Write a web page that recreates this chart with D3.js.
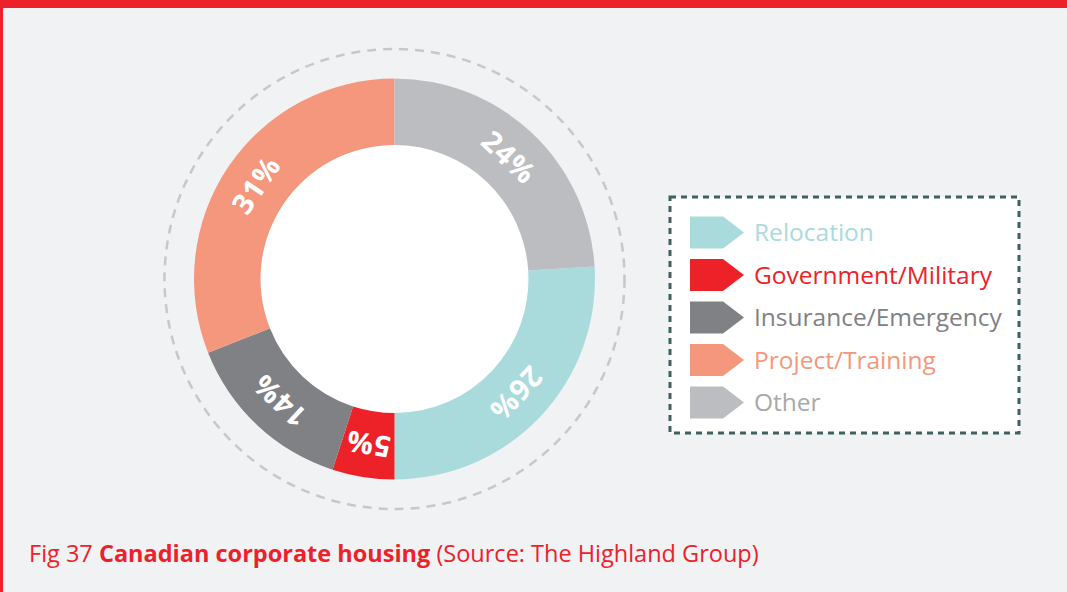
<!DOCTYPE html>
<html>
<head>
<meta charset="utf-8">
<script src="https://cdn.jsdelivr.net/npm/d3@7"></script>
<style>
  html, body { margin: 0; padding: 0; background: #f1f2f4; }
  svg { display: block; font-family: "Open Sans", sans-serif; }
</style>
</head>
<body>
<div id="chart"></div>
<script>
// chart data (legend order)
const categories = ["Relocation", "Government/Military", "Insurance/Emergency", "Project/Training", "Other"];
const shares = [26, 5, 14, 31, 24];
const labels = ["26%", "5%", "14%", "31%", "24%"];
const colors = ["#a9dbdc", "#ed2229", "#808184", "#f4977c", "#bcbdc0"];
const textColors = ["#a9dbdc", "#ed2229", "#808184", "#f4977c", "#a7a9ac"];

const width = 1067
const height = 592

const svg = d3.select("#chart")
    .append("svg")
    .attr("width", width)
    .attr("height", height)

// background + red frame
svg.append("rect").attr("width", width).attr("height", height).attr("fill", "#f1f2f4")
svg.append("rect").attr("width", width).attr("height", 8).attr("fill", "#ed2129")
svg.append("rect").attr("width", 3).attr("height", height).attr("fill", "#ed2129")

// donut
const cx = 394.5, cy = 279;
const outerR = 200.5, innerR = 134;

const g = svg.append("g").attr("transform", `translate(${cx},${cy})`)

// dashed guide circle
g.append("circle")
    .attr("r", 230)
    .attr("fill", "none")
    .attr("stroke", "#c3cacb")
    .attr("stroke-width", 2.5)
    .attr("stroke-dasharray", "9,7")

g.append("circle").attr("r", innerR).attr("fill", "#ffffff")

// "Other" closes the ring at 12 o'clock, so start after its share
const start = shares[4] / 100 * 2 * Math.PI;
const pie = d3.pie().sort(null).value(d => d).startAngle(start).endAngle(start + 2 * Math.PI)
const arcs = pie(shares)

const arc = d3.arc().innerRadius(innerR).outerRadius(outerR)

g.selectAll("path.slice")
    .data(arcs)
    .join("path")
    .attr("class", "slice")
    .attr("d", arc)
    .attr("fill", (d, i) => colors[i])

// labels rotated along the ring
const labelR = (innerR + outerR) / 2;
g.selectAll("text.pct")
    .data(arcs)
    .join("text")
    .attr("class", "pct")
    .attr("transform", d => {
        const a = (d.startAngle + d.endAngle) / 2;
        const x = labelR * Math.sin(a), y = -labelR * Math.cos(a);
        return `translate(${x},${y}) rotate(${a * 180 / Math.PI})`;
    })
    .attr("text-anchor", "middle")
    .attr("dy", "0.36em")
    .attr("fill", "#ffffff")
    .style("font-weight", 700)
    .style("font-size", "29px")
    .style("letter-spacing", "1px")
    .text((d, i) => labels[i])

// legend
const legend = svg.append("g")
legend.append("rect")
    .attr("x", 670).attr("y", 197)
    .attr("width", 349).attr("height", 236)
    .attr("fill", "#ffffff")
    .attr("stroke", "#3f6261")
    .attr("stroke-width", 3)
    .attr("stroke-dasharray", "6,5")

const ly = d3.scalePoint().domain(categories).range([232.5, 402.5])

const item = legend.selectAll("g.item")
    .data(categories)
    .join("g")
    .attr("class", "item")
    .attr("transform", d => `translate(690,${ly(d)})`)

item.append("path")
    .attr("d", "M0,-16 L33,-16 L54,0 L33,16 L0,16 Z")
    .attr("fill", (d, i) => colors[i])

item.append("text")
    .attr("x", 64)
    .attr("y", 8.5)
    .attr("fill", (d, i) => textColors[i])
    .style("font-size", "24.5px")
    .text(d => d)

// caption
const cap = svg.append("text")
    .attr("x", 29)
    .attr("y", 562)
    .attr("fill", "#ed2129")
    .style("font-size", "23.5px")
cap.append("tspan").text("Fig 37 ")
cap.append("tspan").style("font-weight", 700).text("Canadian corporate housing")
cap.append("tspan").text(" (Source: The Highland Group)")
</script>
</body>
</html>
